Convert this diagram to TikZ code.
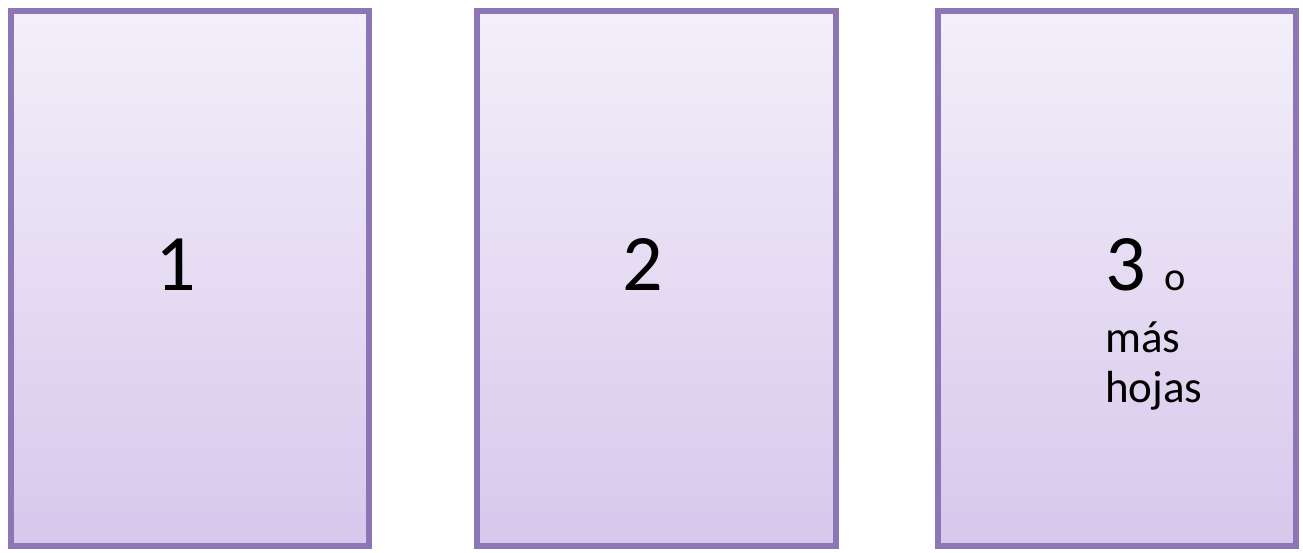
\documentclass[tikz,border=0pt]{standalone}
\usepackage{fontspec}
\setmainfont{Carlito}
\usetikzlibrary{shadows}
\definecolor{sheetline}{RGB}{140,118,182}
\definecolor{sheettop}{RGB}{243,239,250}
\definecolor{sheetbot}{RGB}{215,200,236}
\tikzset{sheet/.style={draw=sheetline,line width=3.2pt,top color=sheettop,bottom color=sheetbot,
  drop shadow={shadow xshift=1.2pt,shadow yshift=-1.2pt,opacity=.25}},
  bignum/.style={font=\fontsize{45.6}{52}\selectfont},
  smalltxt/.style={font=\fontsize{25.6}{30}\selectfont}}
\begin{document}
\begin{tikzpicture}
\useasboundingbox (0,0) rectangle (26.06,11.06);
\coordinate (s1a) at (0.22,0.14);  \coordinate (s1b) at (7.38,10.84);
\coordinate (s2a) at (9.54,0.14);  \coordinate (s2b) at (16.72,10.84);
\coordinate (s3a) at (18.76,0.14); \coordinate (s3b) at (25.92,10.84);
\path[sheet] (s1a) rectangle (s1b);
\path[sheet] (s2a) rectangle (s2b);
\path[sheet] (s3a) rectangle (s3b);
\node[anchor=base,bignum] (one) at (3.52,5.24) {1};
\node[anchor=base,bignum] (two) at (12.86,5.24) {2};
\node[anchor=base west,inner sep=0pt,bignum] (three) at (22.1,5.24) {3 \fontsize{23}{28}\selectfont o};
\node[anchor=base west,inner sep=0pt,smalltxt] (mas) at (22.1,4.0) {más};
\node[anchor=base west,inner sep=0pt,smalltxt] (hojas) at (22.1,3.0) {hojas};
\end{tikzpicture}
\end{document}
